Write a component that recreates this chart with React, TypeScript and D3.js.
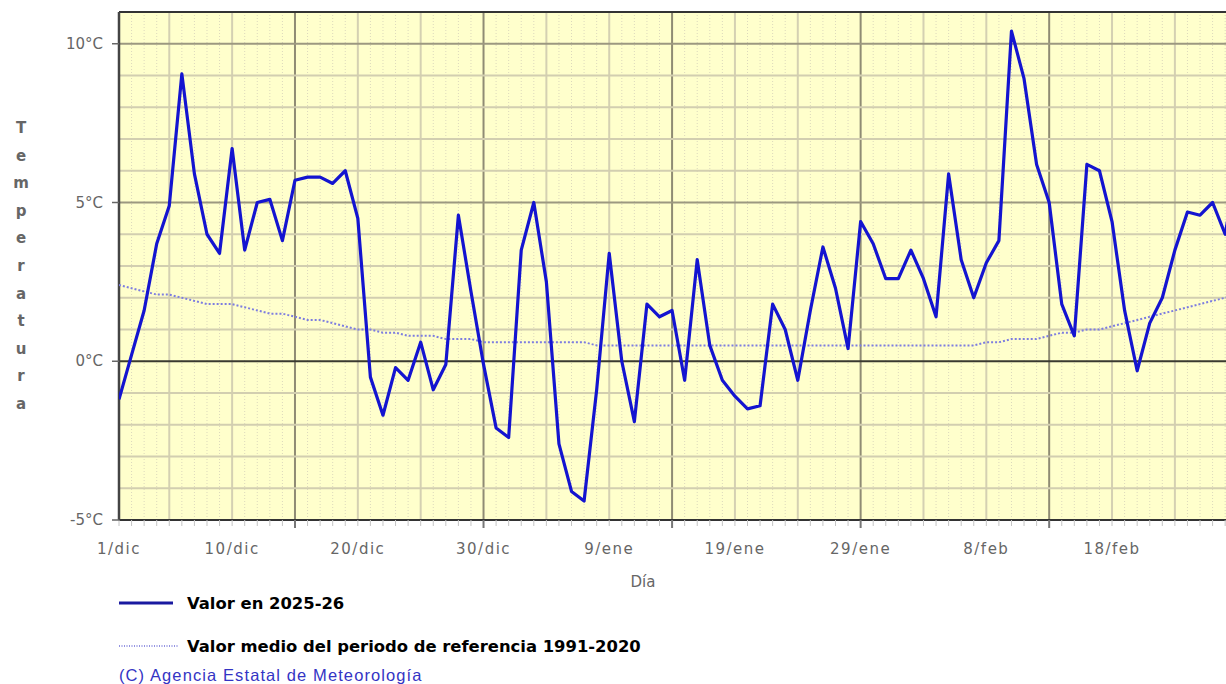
import React, { useRef, useEffect } from 'react';
import * as d3 from 'd3';

// daily mean temperature, day 0 = 1/dic
const temps = [
  -1.2, 0.2, 1.6, 3.7, 4.9, 9.05, 5.9, 4.0, 3.4, 6.7,
  3.5, 5.0, 5.1, 3.8, 5.7, 5.8, 5.8, 5.6, 6.0, 4.5,
  -0.5, -1.7, -0.2, -0.6, 0.6, -0.9, -0.1, 4.6, 2.2, -0.1,
  -2.1, -2.4, 3.5, 5.0, 2.5, -2.6, -4.1, -4.4, -0.9, 3.4,
  0.0, -1.9, 1.8, 1.4, 1.6, -0.6, 3.2, 0.5, -0.6, -1.1,
  -1.5, -1.4, 1.8, 1.0, -0.6, 1.6, 3.6, 2.3, 0.4, 4.4,
  3.7, 2.6, 2.6, 3.5, 2.6, 1.4, 5.9, 3.2, 2.0, 3.1,
  3.8, 10.4, 8.9, 6.2, 5.0, 1.8, 0.8, 6.2, 6.0, 4.4,
  1.6, -0.3, 1.2, 2.0, 3.5, 4.7, 4.6, 5.0, 4.0, 6.2,
];

// reference period 1991-2020 mean
const refMean = [
  2.4, 2.3, 2.2, 2.1, 2.1, 2.0, 1.9, 1.8, 1.8, 1.8,
  1.7, 1.6, 1.5, 1.5, 1.4, 1.3, 1.3, 1.2, 1.1, 1.0,
  1.0, 0.9, 0.9, 0.8, 0.8, 0.8, 0.7, 0.7, 0.7, 0.6,
  0.6, 0.6, 0.6, 0.6, 0.6, 0.6, 0.6, 0.6, 0.5, 0.5,
  0.5, 0.5, 0.5, 0.5, 0.5, 0.5, 0.5, 0.5, 0.5, 0.5,
  0.5, 0.5, 0.5, 0.5, 0.5, 0.5, 0.5, 0.5, 0.5, 0.5,
  0.5, 0.5, 0.5, 0.5, 0.5, 0.5, 0.5, 0.5, 0.5, 0.6,
  0.6, 0.7, 0.7, 0.7, 0.8, 0.9, 0.9, 1.0, 1.0, 1.1,
  1.2, 1.3, 1.4, 1.5, 1.6, 1.7, 1.8, 1.9, 2.0, 2.1,
];

const xTickDays = [0, 9, 19, 29, 39, 49, 59, 69, 79];
const xTickLabels = ['1/dic', '10/dic', '20/dic', '30/dic', '9/ene', '19/ene', '29/ene', '8/feb', '18/feb'];
const yTicks = [-5, 0, 5, 10];
const yTitle = 'Temperatura';
const legendLabels = ['Valor en 2025-26', 'Valor medio del periodo de referencia 1991-2020'];
const credit = '(C) Agencia Estatal de Meteorología';

const App: React.FC = () => {
  const svgRef = useRef<SVGSVGElement | null>(null);

  useEffect(() => {
    if (!svgRef.current) return;
    const svg = d3.select(svgRef.current);
    svg.selectAll('*').remove();
    const [w, h] = [1226, 684];
    const left = 119, top = 12, bottom = 520;
    const x = d3.scaleLinear().domain([0, 88]).range([left, left + 88 * 12.57]);
    const y = d3.scaleLinear().domain([-5, 11]).range([bottom, top]);
    const days = d3.range(0, temps.length);

    svg.append('rect').attr('width', w).attr('height', h).attr('fill', '#fff');
    svg.append('defs').append('clipPath').attr('id', 'plot')
      .append('rect').attr('x', left).attr('y', top).attr('width', w - left + 20).attr('height', bottom - top);
    svg.append('rect').attr('x', left).attr('y', top).attr('width', w - left + 10).attr('height', bottom - top).attr('fill', '#ffffcc');

    const grid = svg.append('g').attr('clip-path', 'url(#plot)');
    // daily verticals
    days.slice(1).forEach(d => {
      const major = (d + 1) % 15 === 0;
      const mid = (d + 1) % 5 === 0;
      grid.append('line').attr('x1', x(d)).attr('x2', x(d)).attr('y1', top).attr('y2', bottom)
        .attr('stroke', major ? '#8f8b74' : mid ? '#d4d0b2' : '#dcd8bc')
        .attr('stroke-width', major ? 2 : mid ? 2 : 1)
        .attr('stroke-dasharray', major || mid ? null : '1,2');
    });
    // horizontal grid every degree
    d3.range(-4, 11).forEach(v => {
      const zero = v === 0;
      const five = v % 5 === 0;
      grid.append('line').attr('x1', left).attr('x2', w + 10).attr('y1', y(v)).attr('y2', y(v))
        .attr('stroke', zero ? '#3a3a30' : five ? '#9c9880' : '#d2ceb0')
        .attr('stroke-width', 2);
    });

    // frame
    svg.append('line').attr('x1', left).attr('x2', w + 10).attr('y1', top).attr('y2', top).attr('stroke', '#333').attr('stroke-width', 2);
    svg.append('line').attr('x1', left).attr('x2', w + 10).attr('y1', bottom).attr('y2', bottom).attr('stroke', '#333').attr('stroke-width', 2);
    svg.append('line').attr('x1', left).attr('x2', left).attr('y1', top).attr('y2', bottom).attr('stroke', '#444').attr('stroke-width', 2.5);

    // x ticks
    days.forEach(d => {
      const major = (d + 1) % 15 === 0;
      svg.append('line').attr('x1', x(d)).attr('x2', x(d)).attr('y1', bottom).attr('y2', bottom + (major ? 8 : 6))
        .attr('stroke', major ? '#777' : '#c4c4c4').attr('stroke-width', major ? 2 : 1);
    });
    xTickDays.forEach((d, i) => {
      svg.append('text').attr('x', x(d)).attr('y', 554).attr('text-anchor', 'middle')
        .attr('font-family', 'DejaVu Sans').attr('font-size', 15).attr('letter-spacing', 1.5)
        .attr('fill', '#666').text(xTickLabels[i]);
    });
    svg.append('text').attr('x', 643).attr('y', 587).attr('text-anchor', 'middle')
      .attr('font-family', 'DejaVu Sans').attr('font-size', 15).attr('fill', '#666').text('Día');

    // y ticks
    yTicks.forEach(v => {
      svg.append('line').attr('x1', left - 7).attr('x2', left).attr('y1', y(v)).attr('y2', y(v)).attr('stroke', '#666').attr('stroke-width', 1.5);
      svg.append('text').attr('x', 103).attr('y', y(v) + 5).attr('text-anchor', 'end')
        .attr('font-family', 'DejaVu Sans').attr('font-size', 15).attr('fill', '#666').text(`${v}°C`);
    });
    yTitle.split('').forEach((c, i) => {
      svg.append('text').attr('x', 21).attr('y', 133 + i * 27.6).attr('text-anchor', 'middle')
        .attr('font-family', 'DejaVu Sans').attr('font-weight', 'bold').attr('font-size', 15)
        .attr('fill', '#666').text(c);
    });

    // series
    const line = d3.line<number>().x((_, i) => x(i)).y(d => y(d));
    const series = svg.append('g').attr('clip-path', 'url(#plot)');
    series.append('path').datum(refMean).attr('fill', 'none').attr('stroke', '#7d7de0')
      .attr('stroke-width', 2).attr('stroke-dasharray', '2,2').attr('d', line);
    series.append('path').datum(temps).attr('fill', 'none').attr('stroke', '#1414d0')
      .attr('stroke-width', 3.2).attr('stroke-linejoin', 'round').attr('d', line);

    // legend
    svg.append('line').attr('x1', 119).attr('x2', 173).attr('y1', 603).attr('y2', 603).attr('stroke', '#1a1aa0').attr('stroke-width', 3);
    svg.append('line').attr('x1', 119).attr('x2', 178).attr('y1', 646).attr('y2', 646).attr('stroke', '#7070d8').attr('stroke-width', 1.5).attr('stroke-dasharray', '1,1.5');
    legendLabels.forEach((t, i) => {
      svg.append('text').attr('x', 187).attr('y', 609 + i * 43)
        .attr('font-family', 'DejaVu Sans').attr('font-weight', 'bold').attr('font-size', 16.4)
        .attr('fill', '#000').text(t);
    });
    svg.append('text').attr('x', 119).attr('y', 681)
      .attr('font-family', 'Liberation Sans').attr('font-size', 16.5).attr('letter-spacing', 1.1)
      .attr('fill', '#3434c4').text(credit);
  }, []);

  return (
    <div style={{ position: 'absolute', left: 0, top: 0 }}>
      <svg ref={svgRef} width={1226} height={684} style={{ display: 'block' }} />
    </div>
  );
};

export default App;
